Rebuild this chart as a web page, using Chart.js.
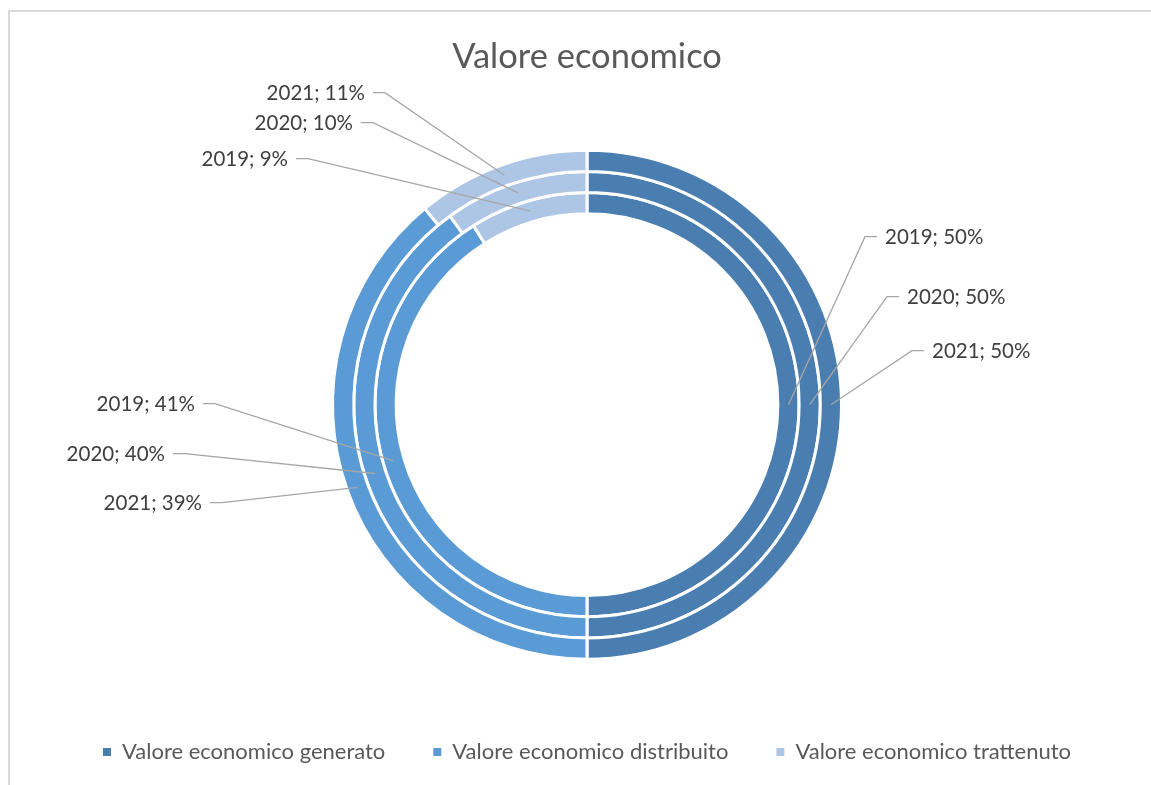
<!DOCTYPE html>
<html lang="it">
<head>
<meta charset="utf-8">
<title>Valore economico</title>
<script src="https://cdn.jsdelivr.net/npm/chart.js@4.4.1/dist/chart.umd.min.js"></script>
<style>
    html, body { margin: 0; padding: 0; background: #ffffff; }
    #wrap { position: relative; width: 1151px; height: 785px; overflow: hidden; }
    #frame {
        position: absolute; left: 8px; top: 10px; width: 1200px; height: 800px;
        border-top: 2px solid #d9d9d9; border-left: 2px solid #d9d9d9;
        box-sizing: border-box;
    }
    #valoreChart { position: absolute; left: 0; top: 0; }
</style>
</head>
<body>
<div id="wrap">
    <div id="frame"></div>
    <canvas id="valoreChart" width="1151" height="785"></canvas>
</div>
<script>
const years = ['2019', '2020', '2021'];
const categories = ['Valore economico generato', 'Valore economico distribuito', 'Valore economico trattenuto'];
// quote percentuali per anno
const generato = [50, 50, 50];
const distribuito = [41, 40, 39];
const trattenuto = [9, 10, 11];

const colors = ['#4a7eb1', '#5b9bd5', '#adc6e6'];

// punto di gomito delle linee guida, relativo al centro [dx, dy] per categoria e anno
const leaderOffsets = [
    [[278, -168], [300, -108], [325, -54]],
    [[-372, -1], [-402, 49], [-365, 98]],
    [[-279, -246], [-214, -282], [-202, -312]]
];

const FONT = 'Lato, "Open Sans", sans-serif';

const leaderLabels = {
    id: 'leaderLabels',
    afterDatasetsDraw(chart) {
        const ctx = chart.ctx;
        ctx.save();
        ctx.font = '20.5px ' + FONT;
        ctx.textBaseline = 'middle';
        chart.data.datasets.forEach((ds, di) => {
            const meta = chart.getDatasetMeta(di);
            const yearIdx = years.indexOf(ds.label);
            meta.data.forEach((arc, ci) => {
                const p = arc.getCenterPoint();
                const cx = arc.x, cy = arc.y;
                const off = leaderOffsets[ci][yearIdx];
                const ex = cx + off[0], ey = cy + off[1];
                const dir = off[0] > 0 ? 1 : -1;
                ctx.strokeStyle = '#a6a6a6';
                ctx.lineWidth = 1.3;
                ctx.beginPath();
                ctx.moveTo(p.x, p.y);
                ctx.lineTo(ex, ey);
                ctx.lineTo(ex + dir * 12, ey);
                ctx.stroke();
                ctx.fillStyle = '#404040';
                ctx.textAlign = dir > 0 ? 'left' : 'right';
                ctx.fillText(ds.label + '; ' + ds.data[ci] + '%', ex + dir * 20, ey + 1);
            });
        });
        ctx.restore();
    }
};

const renderChart = () => {
    const ctx = document.getElementById('valoreChart').getContext('2d');
    // anello esterno = 2021, interno = 2019
    const datasets = years.slice().reverse().map(y => {
        const i = years.indexOf(y);
        return {
            label: y,
            data: [generato[i], distribuito[i], trattenuto[i]],
            backgroundColor: colors,
            borderColor: '#ffffff',
            borderWidth: 3
        };
    });

    new Chart(ctx, {
        type: 'doughnut',
        data: { labels: categories, datasets: datasets },
        options: {
            responsive: false,
            animation: false,
            radius: 254.5,
            cutout: '75%',
            layout: { padding: { left: 23, right: 0, top: 0, bottom: 12 } },
            plugins: {
                title: {
                    display: true,
                    text: 'Valore economico',
                    color: '#595959',
                    font: { family: FONT, size: 34.5, weight: 'normal' },
                    padding: { top: 36, bottom: 39 }
                },
                legend: {
                    position: 'bottom',
                    labels: {
                        color: '#595959',
                        font: { family: FONT, size: 22 },
                        boxWidth: 8,
                        boxHeight: 8,
                        padding: 48,
                        generateLabels: (chart) => Chart.overrides.doughnut.plugins.legend.labels
                            .generateLabels(chart).map(l => ({ ...l, lineWidth: 0 }))
                    }
                },
                tooltip: { enabled: false }
            }
        },
        plugins: [leaderLabels]
    });
};

document.addEventListener('DOMContentLoaded', () => {
    renderChart();
});
</script>
</body>
</html>
